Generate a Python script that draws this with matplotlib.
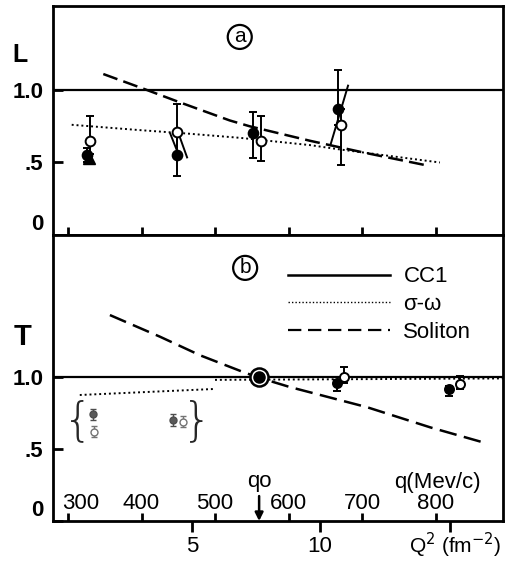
import numpy as np
import matplotlib.pyplot as plt

plt.rcParams['font.family'] = ['Liberation Sans', 'DejaVu Sans']

# x axis is q (MeV/c); Q^2 (fm^-2) ticks are placed at their q positions
q_ticks = [300, 400, 500, 600, 700, 800]
q_tick_labels = ['300', '400', '500', '600', '700', '800']
Q2_tick_q = [469, 643, 820]
Q2_tick_labels = ['5', '10', '']
q0 = 560

# ---- panel (a): L ----
L_sw_q = [305, 393, 461, 534, 629, 670, 806]
L_sw = [0.76, 0.725, 0.70, 0.67, 0.62, 0.59, 0.50]
L_sol_q = [348, 402, 452, 520, 547, 629, 701, 788]
L_sol = [1.11, 1.01, 0.915, 0.79, 0.75, 0.65, 0.57, 0.48]

L_fill_q = [326, 448, 552, 668]
L_fill = [0.555, 0.555, 0.70, 0.87]
L_fill_lo = [0.50, 0.405, 0.53, 0.76]
L_fill_hi = [0.60, 0.71, 0.85, 1.14]
L_open_q = [330, 448, 563, 672]
L_open = [0.65, 0.71, 0.65, 0.76]
L_open_lo = [0.56, 0.56, 0.51, 0.48]
L_open_hi = [0.82, 0.90, 0.82, 0.87]
L_tri_q = [329]
L_tri = [0.53]
L_band_q = [[439, 450], [450, 462], [681, 657]]
L_band = [[0.70, 0.56], [0.705, 0.535], [1.03, 0.62]]

# ---- panel (b): T ----
T_sw_q = [316, 500, np.nan, 500, 892]
T_sw = [0.875, 0.917, np.nan, 0.98, 0.99]
T_sol_q = [357, 425, 480, 538, 560, 602, 707, 793, 862]
T_sol = [1.43, 1.28, 1.15, 1.035, 0.995, 0.93, 0.79, 0.65, 0.55]

T_fill_q = [666, 819]
T_fill = [0.955, 0.915]
T_fill_lo = [0.90, 0.865]
T_fill_hi = [0.98, 0.94]
T_open_q = [676, 833]
T_open = [1.0, 0.95]
T_open_lo = [0.96, 0.92]
T_open_hi = [1.07, 1.005]
T_ref = 1.0

# bracketed (older) points
T_old_fill_q = [334, 443]
T_old_fill = [0.74, 0.70]
T_old_open_q = [336, 457]
T_old_open = [0.62, 0.69]
T_old_err = 0.04
brace_q = [313, 475]
brace_T = 0.69

xlim = (279.6, 891.8)

fig = plt.figure(figsize=(5.05, 5.63), dpi=100)
axL = fig.add_axes([0.105, 0.5826, 0.891, 0.4067])
axT = fig.add_axes([0.105, 0.0746, 0.891, 0.508])


def err(ax, q, y, lo, hi, face, ms=7):
    y = np.array(y)
    ax.errorbar(q, y, yerr=[y - np.array(lo), np.array(hi) - y], fmt='o',
                ms=ms, mfc=face, mec='black', mew=1.4, ecolor='black',
                elinewidth=1.4, capsize=3, capthick=1.4, zorder=4)


for ax in (axL, axT):
    ax.set_xlim(*xlim)
    for s in ax.spines.values():
        s.set_linewidth(2)
    ax.axhline(1.0, color='black', lw=1.6, zorder=2)
    ax.set_yticks([0, 0.5, 1.0])
    ax.set_yticklabels(['0', '.5', '1.0'], fontsize=16, fontweight='bold')
    ax.get_yticklabels()[0].set_va('bottom')
    ax.tick_params(axis='y', direction='in', length=7, width=2, pad=7)

# panel a
axL.set_ylim(0, 1.579)
axL.set_xticks(q_ticks)
axL.set_xticklabels([])
axL.tick_params(axis='x', direction='in', length=6, width=2)
axL.plot(L_sw_q, L_sw, color='black', lw=1.4, dashes=(1, 1.5), zorder=3)
axL.plot(L_sol_q, L_sol, color='black', lw=1.8, dashes=(6, 2.5), zorder=3)
for bq, bl in zip(L_band_q, L_band):
    axL.plot(bq, bl, color='black', lw=1.4, zorder=3)
axL.plot(L_tri_q, L_tri, '^', color='black', ms=9, zorder=4)
err(axL, L_fill_q, L_fill, L_fill_lo, L_fill_hi, 'black')
err(axL, L_open_q, L_open, L_open_lo, L_open_hi, 'white')
axL.text(0.415, 0.865, 'a', transform=axL.transAxes, fontsize=15, ha='center',
         va='center', bbox=dict(boxstyle='circle,pad=0.12', fc='white', ec='black', lw=1.6))
axL.text(-0.073, 0.786, 'L', transform=axL.transAxes, fontsize=18,
         fontweight='bold', ha='center', va='center')

# panel b
axT.set_ylim(0, 1.986)
axT.plot(T_sw_q, T_sw, color='black', lw=1.4, dashes=(1, 1.5), zorder=3)
axT.plot(T_sol_q, T_sol, color='black', lw=1.8, dashes=(7, 3), zorder=3)
axT.plot([q0], [T_ref], 'o', ms=13, mfc='white', mec='black', mew=1.8, zorder=5)
axT.plot([q0], [T_ref], 'o', ms=8, color='black', zorder=6)
err(axT, T_fill_q, T_fill, T_fill_lo, T_fill_hi, 'black', ms=6.5)
err(axT, T_open_q, T_open, T_open_lo, T_open_hi, 'white', ms=6.5)
axT.errorbar(T_old_fill_q, T_old_fill, yerr=T_old_err, fmt='o', ms=5, mfc='0.35',
             mec='0.3', mew=1, ecolor='0.3', elinewidth=1, capsize=2, zorder=4)
axT.errorbar(T_old_open_q, T_old_open, yerr=T_old_err, fmt='o', ms=5, mfc='white',
             mec='0.45', mew=1, ecolor='0.45', elinewidth=1, capsize=2, zorder=4)
for bq, ch in zip(brace_q, ['{', '}']):
    axT.text(bq, brace_T, ch, fontsize=34, ha='center', va='center',
             family='DejaVu Sans', fontweight='light', color='0.15')

axT.set_xticks(Q2_tick_q)
axT.set_xticklabels(Q2_tick_labels, fontsize=16)
axT.tick_params(axis='x', which='major', direction='out', length=8, width=2, pad=3)
axT.set_xticks(q_ticks, minor=True)
axT.tick_params(axis='x', which='minor', direction='in', length=6, width=2)
axT.text(0.997, -0.035, 'Q$^2$ (fm$^{-2}$)', transform=axT.transAxes, fontsize=15,
         ha='right', va='top')
for qt, lab in zip(q_ticks, q_tick_labels):
    x = qt + 17 if qt == q_ticks[0] else qt
    axT.text(x, 0.12, lab, fontsize=16, ha='center', va='center')
axT.text(802, 0.27, 'q(Mev/c)', fontsize=16, ha='center', va='center')
axT.annotate('qo', xy=(q0, 0), xytext=(q0, 0.275), fontsize=16, ha='center',
             va='center', arrowprops=dict(arrowstyle='-|>', color='black', lw=1.8,
                                          shrinkA=1, shrinkB=0, mutation_scale=12))
axT.text(0.427, 0.885, 'b', transform=axT.transAxes, fontsize=15, ha='center',
         va='center', bbox=dict(boxstyle='circle,pad=0.12', fc='white', ec='black', lw=1.6))
axT.text(-0.067, 0.643, 'T', transform=axT.transAxes, fontsize=21,
         fontweight='bold', ha='center', va='center')

h1, = axT.plot([], [], color='black', lw=1.8)
h2, = axT.plot([], [], color='black', lw=1.0, dashes=(1, 1.5))
h3, = axT.plot([], [], color='black', lw=1.6, dashes=(6, 3))
axT.legend([h1, h2, h3], ['CC1', 'σ-ω', 'Soliton'], loc='upper left',
           bbox_to_anchor=(0.522, 0.89), frameon=False, fontsize=16,
           handlelength=4.6, handletextpad=0.6, labelspacing=0.3,
           borderpad=0, borderaxespad=0)

fig.savefig('out.png', dpi=100)
